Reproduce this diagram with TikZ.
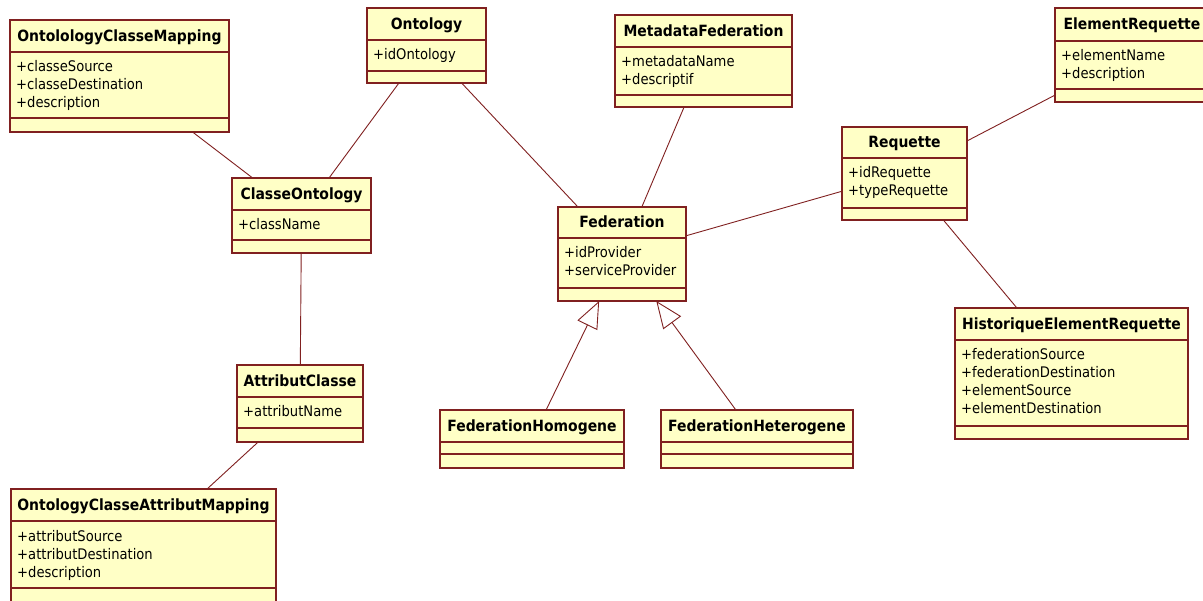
\documentclass[tikz,border=0pt]{standalone}
\usepackage{fontspec}
\setmainfont{DejaVu Sans Condensed}[BoldFont={DejaVu Sans Condensed Bold}]
\usetikzlibrary{arrows.meta}

\definecolor{umlline}{RGB}{128,32,32}
\definecolor{umlfill}{RGB}{255,255,198}

\tikzset{
  classbox/.style={rectangle, draw=umlline, fill=umlfill, line width=1.2pt,
                   inner sep=0pt, outer sep=0pt},
  classtitle/.style={font=\bfseries\fontsize{15.5}{18}\selectfont, inner sep=0pt, anchor=base},
  classattr/.style={font=\fontsize{14.6}{18}\selectfont, inner sep=0pt, anchor=base west},
  divider/.style={draw=umlline, line width=1.2pt},
  assoc/.style={draw=umlline, line width=0.9pt},
  generalize/.style={assoc, -{Triangle[open, length=27pt, width=22pt]}},
}

% \umlclass{name}{left}{top}{right}{bottom}{title rule}{attribute rule}{title}{attributes}
\newcommand\umlclass[9]{%
  \node[classbox, minimum width={#4-#2}, minimum height={#5-#3}]
       (#1) at ({(#2+#4)/2},{(#3+#5)/2}) {};
  \draw[divider] (#2,#6) -- (#4,#6);
  \draw[divider] (#2,#7) -- (#4,#7);
  \node[classtitle] (#1-title) at ({(#2+#4)/2},{(#3+#6)/2+5.5}) {#8};
  \if\relax\detokenize{#9}\relax\else
    \foreach \attr [count=\i] in {#9} {
      \node[classattr] (#1-attr\i) at ({#2+6},{#6+2+18*\i}) {\attr};
    }
  \fi
}

\begin{document}
\begin{tikzpicture}[x=1pt, y=-1pt]
  \useasboundingbox (0,0) rectangle (1203,601);
  \fill[white] (0,0) rectangle (1203,601);
  \clip (0,0) rectangle (1203,601);

  % classes
  \umlclass{ocm}{10}{20}{229}{132}{52}{118}{OntolologyClasseMapping}{+classeSource,+classeDestination,+description}
  \umlclass{ont}{367}{8}{486}{83}{40}{71}{Ontology}{+idOntology}
  \umlclass{meta}{615}{15}{792}{107}{47}{95}{MetadataFederation}{+metadataName,+descriptif}
  \umlclass{er}{1055}{8}{1209}{102}{41}{89}{ElementRequette}{+elementName,+description}
  \umlclass{req}{842}{127}{967}{220}{158}{208}{Requette}{+idRequette,+typeRequette}
  \umlclass{co}{232}{178}{371}{253}{210}{240}{ClasseOntology}{+className}
  \umlclass{fed}{558}{207}{686}{301}{238}{288}{Federation}{+idProvider,+serviceProvider}
  \umlclass{her}{955}{308}{1188}{439}{340}{426}{HistoriqueElementRequette}{+federationSource,+federationDestination,+elementSource,+elementDestination}
  \umlclass{ac}{237}{365}{363}{442}{397}{428}{AttributClasse}{+attributName}
  \umlclass{fho}{440}{410}{624}{468}{442}{454}{FederationHomogene}{}
  \umlclass{fhe}{661}{410}{853}{468}{442}{454}{FederationHeterogene}{}
  \umlclass{ocam}{11}{489}{276}{606}{521}{588}{OntologyClasseAttributMapping}{+attributSource,+attributDestination,+description}

  % associations
  \draw[assoc] (ocm) -- (co);
  \draw[assoc] (ont) -- (co);
  \draw[assoc] (ont) -- (fed);
  \draw[assoc] (meta) -- (fed);
  \draw[assoc] (fed) -- (req);
  \draw[assoc] (req) -- (er);
  \draw[assoc] (req) -- (her);
  \draw[assoc] (co) -- (ac);
  \draw[assoc] (ac) -- (ocam);

  % generalizations
  \draw[generalize] (fho) -- (fed);
  \draw[generalize] (fhe) -- (fed);
\end{tikzpicture}
\end{document}
